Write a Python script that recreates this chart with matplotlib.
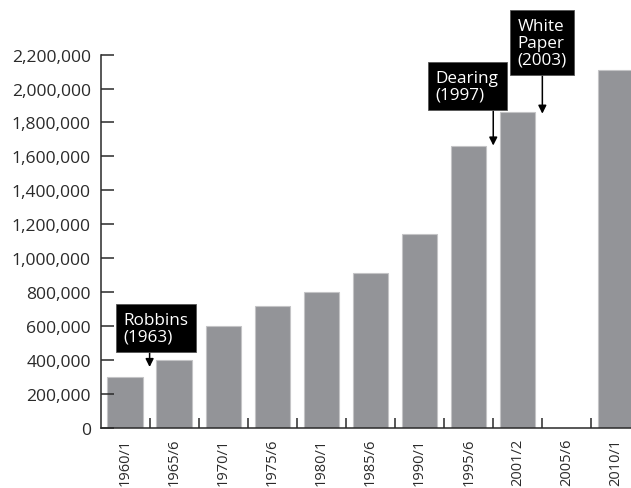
import numpy as np
import matplotlib
import matplotlib.pyplot as plt
from matplotlib.ticker import FuncFormatter, FixedLocator

matplotlib.rcParams.update({"font.family": ["Open Sans", "DejaVu Sans"], "font.size": 12})

YEARS = ["1960/1", "1965/6", "1970/1", "1975/6", "1980/1", "1985/6",
         "1990/1", "1995/6", "2001/2", "2005/6", "2010/1"]
STUDENTS = [300000, 400000, 600000, 715000, 797000, 912000,
            1141000, 1660000, 1862000, np.nan, 2112000]

# policy milestones: label, arrow x (between bars), arrow tip value
EVENTS = ["Robbins\n(1963)", "Dearing\n(1997)", "White\nPaper\n(2003)"]
EVENT_X = [0.5, 7.5, 8.5]
EVENT_TIP = [357000, 1664000, 1852000]

BAR = "#939498"
INK = "#2a2a2a"

fig = plt.figure(figsize=(6.31, 4.89), dpi=100)
ax = fig.add_axes([0.1593, 0.1237, 0.8558, 0.7624])

x = np.arange(len(YEARS))
ax.bar(x, STUDENTS, width=0.72, color=BAR, edgecolor="#c4c4c6", linewidth=0.8)

ax.set_xlim(-0.5, len(YEARS) - 0.5)
ax.set_ylim(0, 2200000)
ax.set_yticks(np.arange(0, 2200001, 200000))
ax.yaxis.set_major_formatter(FuncFormatter(lambda v, _: f"{v:,.0f}"))

ax.set_xticks(x)
ax.set_xticklabels(YEARS, rotation=90)
ax.xaxis.set_minor_locator(FixedLocator(x[:-1] + 0.5))
ax.tick_params(axis="x", which="major", length=0, pad=7.5, colors=INK, labelsize=10.5)
ax.tick_params(axis="x", which="minor", direction="in", length=7, width=1.1, color=INK)
ax.tick_params(axis="y", direction="in", length=9.5, width=1.1, pad=7,
               colors=INK, labelsize=12.6)

for side in ["top", "right"]:
    ax.spines[side].set_visible(False)
for side in ["left", "bottom"]:
    ax.spines[side].set_color(INK)
    ax.spines[side].set_linewidth(1.1)

# text anchored at its lower-left; arrows start at the box's lower edge
text_pos = [(-0.03, 490000), (6.33, 1920000), (7.99, 2126000)]
box_base = [464000, 1881000, 2098000]
for label, (tx, ty), base, ex, tip in zip(EVENTS, text_pos, box_base, EVENT_X, EVENT_TIP):
    ax.text(tx, ty, label, ha="left", va="bottom", color="white", fontsize=12.3,
            linespacing=1.05, clip_on=False, zorder=4,
            bbox=dict(boxstyle="square,pad=0.45", facecolor="black", edgecolor="#555555",
                      linewidth=0.6))
    ax.annotate("", xy=(ex, tip), xytext=(ex, base), annotation_clip=False, zorder=3,
                arrowprops=dict(arrowstyle="-|>", color="black", lw=1.1,
                                mutation_scale=12, shrinkA=0, shrinkB=0))

fig.savefig("out.png", dpi=100)
